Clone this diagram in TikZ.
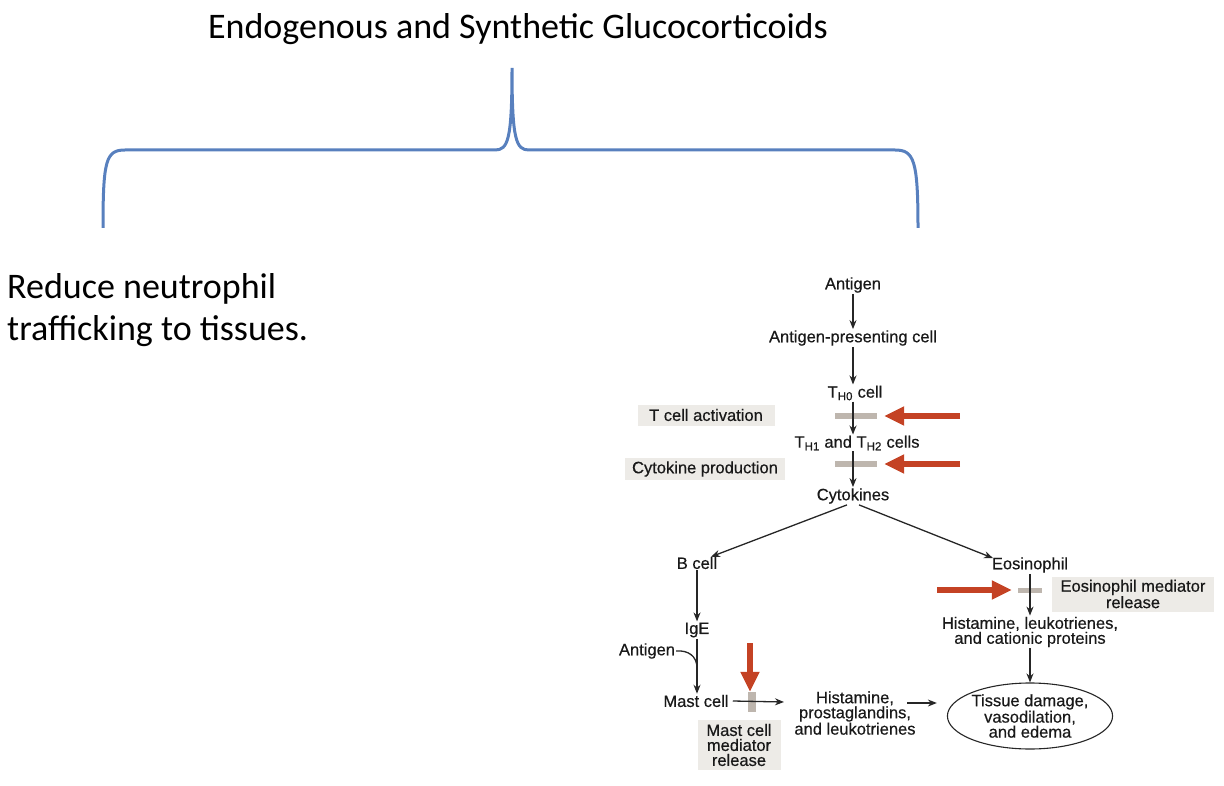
\documentclass[tikz,border=0pt]{standalone}
\usepackage{fontspec}
\setmainfont{Liberation Sans}
\newfontfamily\flowfont[FakeBold=0.5]{Liberation Sans}
\newfontfamily\calfont{Carlito}
\usetikzlibrary{arrows.meta,shapes.geometric}
\definecolor{braceblue}{RGB}{88,128,190}
\definecolor{redarr}{RGB}{196,66,36}
\definecolor{barcol}{RGB}{190,182,174}
\definecolor{boxfill}{RGB}{237,235,231}
\begin{document}
\begin{tikzpicture}[x=1pt,y=-1pt,
  lab/.style={font=\flowfont\fontsize{16.5}{15}\selectfont, inner sep=1pt, align=center, text=black!90},
  graybox/.style={lab, fill=boxfill, inner sep=0pt},
  flow/.style={-{Stealth[length=9pt,width=7pt]}, line width=1.3pt, draw=black!85},
  redarrow/.style={draw=redarr, line width=6pt, -{Triangle[length=20pt,width=18pt]}},
  bar/.style={fill=barcol, draw=none, inner sep=0pt},
  bracestyle/.style={draw=braceblue, line width=3pt},
  bigtext/.style={font=\calfont\fontsize{36}{42}\selectfont, inner sep=0pt}]
\useasboundingbox (0,0) rectangle (1224,786);

% title and brace
\node[bigtext] (title) at (518,29) {Endogenous and Synthetic Glucocorticoids};
\draw[bracestyle] (103,228) .. controls (103,160) and (106,150) .. (125,150) -- (495,150)
  .. controls (508,150) and (512,140) .. (512,68)
  .. controls (512,140) and (516,150) .. (529,150) -- (895,150)
  .. controls (914,150) and (918,160) .. (918,228);
\node[bigtext, anchor=west, align=left] (reduce) at (7,310) {Reduce neutrophil\\trafficking to tissues.};

% flowchart nodes
\node[lab] (ag) at (853,285) {Antigen};
\node[lab] (apc) at (853,338) {Antigen-presenting cell};
\node[lab] (th0) at (855,393) {T\textsubscript{H0} cell};
\node[lab] (th12) at (857,443) {T\textsubscript{H1} and T\textsubscript{H2} cells};
\node[lab] (cyt) at (853,496) {Cytokines};
\node[lab] (bc) at (697,563) {B cell};
\node[lab] (ige) at (697,630) {IgE};
\node[lab] (ag2) at (647,651) {Antigen};
\node[lab] (mast) at (696,701) {Mast cell};
\node[lab] (hpl) at (855,713) {Histamine,\\prostaglandins,\\and leukotrienes};
\node[lab] (eos) at (1030,565) {Eosinophil};
\node[lab] (hlc) at (1030,632) {Histamine, leukotrienes,\\and cationic proteins};
\node[lab, ellipse, draw=black!85, line width=1.1pt, minimum width=155, minimum height=66, inner sep=0pt] (td) at (1030,716) {Tissue damage,\\vasodilation,\\and edema};

% gray label boxes
\node[graybox, minimum width=137, minimum height=21] (tca) at (706,415) {T cell activation};
\node[graybox, minimum width=160, minimum height=22] (cp) at (705,469) {Cytokine production};
\node[graybox, minimum width=83, minimum height=50] (mcmr) at (739,745) {Mast cell\\mediator\\release};
\node[graybox, minimum width=162, minimum height=35] (emr) at (1133,594) {Eosinophil mediator\\release};

% inhibition bars
\node[bar, minimum width=42, minimum height=6] (b1) at (856,416) {};
\node[bar, minimum width=42, minimum height=6] (b2) at (856,464) {};
\node[bar, minimum width=24, minimum height=5] (b3) at (1030,590) {};
\node[bar, minimum width=8, minimum height=20] (b4) at (752,702) {};

% black connectors
\draw[flow] (ag) -- (apc);
\draw[flow] (apc.south -| 853,0) -- (th0.north -| 853,0);
\draw[flow] (th0.south -| 853,0) -- (th12.north -| 853,0);
\draw[flow] (th12.south -| 853,0) -- (cyt.north -| 853,0);
\draw[flow] ([xshift=-6pt]cyt.south) -- ([xshift=14pt,yshift=-1pt]bc.north);
\draw[flow] ([xshift=6pt]cyt.south) -- ([xshift=-37pt,yshift=-2pt]eos.north);
\draw[flow] (bc) -- (ige);
\draw[flow] (ige) -- (mast.north -| ige);
\coordinate (join) at (697,668);
\draw[line width=1.3pt, draw=black!85] (ag2.east) .. controls (688,650) and (697,656) .. (join);
\draw[flow] ([xshift=3pt]mast.east) -- (784,702);
\coordinate (hs) at (907,703);
\draw[flow] (hs) -- ([xshift=-10pt]td.west |- hs);
\draw[flow] (eos) -- (hlc);
\draw[flow] (hlc) -- (td);

% red arrows
\coordinate (r1) at (960,416);
\coordinate (r2) at (960,464);
\coordinate (r3) at (937,590);
\coordinate (r4) at (750,643);
\draw[redarrow] (r1) -- ([xshift=7pt]b1.east);
\draw[redarrow] (r2) -- ([xshift=7pt]b2.east);
\draw[redarrow] (r3) -- ([xshift=-6pt]b3.west);
\draw[redarrow] (r4) -- (b4.north -| r4);
\end{tikzpicture}
\end{document}
